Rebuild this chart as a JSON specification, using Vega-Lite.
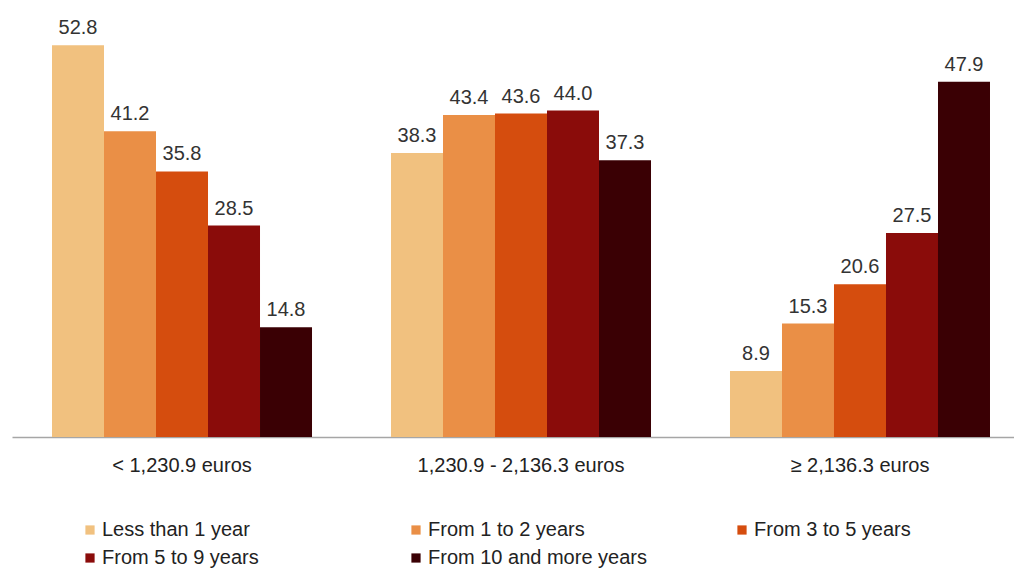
{
  "$schema": "https://vega.github.io/schema/vega-lite/v6.json",
  "width": 1002,
  "height": 408,
  "autosize": {"type": "none"},
  "padding": {"left": 12, "top": 29, "right": 0, "bottom": 132},
  "background": "white",
  "config": {
    "font": "Liberation Sans",
    "view": {"stroke": null}
  },
  "data": {
    "values": [
      {"income": "< 1,230.9 euros", "tenure": "Less than 1 year", "value": 52.8},
      {"income": "< 1,230.9 euros", "tenure": "From 1 to 2 years", "value": 41.2},
      {"income": "< 1,230.9 euros", "tenure": "From 3 to 5 years", "value": 35.8},
      {"income": "< 1,230.9 euros", "tenure": "From 5 to 9 years", "value": 28.5},
      {"income": "< 1,230.9 euros", "tenure": "From 10 and more years", "value": 14.8},
      {"income": "1,230.9 - 2,136.3 euros", "tenure": "Less than 1 year", "value": 38.3},
      {"income": "1,230.9 - 2,136.3 euros", "tenure": "From 1 to 2 years", "value": 43.4},
      {"income": "1,230.9 - 2,136.3 euros", "tenure": "From 3 to 5 years", "value": 43.6},
      {"income": "1,230.9 - 2,136.3 euros", "tenure": "From 5 to 9 years", "value": 44.0},
      {"income": "1,230.9 - 2,136.3 euros", "tenure": "From 10 and more years", "value": 37.3},
      {"income": "≥ 2,136.3 euros", "tenure": "Less than 1 year", "value": 8.9},
      {"income": "≥ 2,136.3 euros", "tenure": "From 1 to 2 years", "value": 15.3},
      {"income": "≥ 2,136.3 euros", "tenure": "From 3 to 5 years", "value": 20.6},
      {"income": "≥ 2,136.3 euros", "tenure": "From 5 to 9 years", "value": 27.5},
      {"income": "≥ 2,136.3 euros", "tenure": "From 10 and more years", "value": 47.9}
    ]
  },
  "encoding": {
    "x": {
      "field": "income",
      "type": "nominal",
      "sort": ["< 1,230.9 euros", "1,230.9 - 2,136.3 euros", "≥ 2,136.3 euros"],
      "scale": {"paddingInner": 0.233, "paddingOuter": 0.0944, "align": 0.625},
      "axis": {
        "title": null,
        "labelAngle": 0,
        "labelFontSize": 20,
        "labelColor": "#222222",
        "labelPadding": 18,
        "labelLimit": 400,
        "ticks": false,
        "domainColor": "#A6A6A6",
        "domainWidth": 1.5
      }
    },
    "xOffset": {
      "field": "tenure",
      "type": "nominal",
      "sort": ["Less than 1 year", "From 1 to 2 years", "From 3 to 5 years", "From 5 to 9 years", "From 10 and more years"],
      "scale": {"paddingInner": 0, "paddingOuter": 0}
    },
    "y": {
      "field": "value",
      "type": "quantitative",
      "scale": {"domain": [0, 55], "nice": false},
      "axis": null
    }
  },
  "layer": [
    {
      "mark": {"type": "bar"},
      "encoding": {
        "color": {
          "field": "tenure",
          "type": "nominal",
          "sort": ["Less than 1 year", "From 1 to 2 years", "From 3 to 5 years", "From 5 to 9 years", "From 10 and more years"],
          "scale": {
            "domain": ["Less than 1 year", "From 1 to 2 years", "From 3 to 5 years", "From 5 to 9 years", "From 10 and more years"],
            "range": ["#F1C17F", "#EA8F46", "#D54D0E", "#8A0C0A", "#3A0004"]
          },
          "legend": {
            "title": null,
            "orient": "none",
            "legendX": 68,
            "legendY": 491,
            "direction": "horizontal",
            "columns": 3,
            "gridAlign": "all",
            "columnPadding": 85,
            "rowPadding": 8,
            "symbolType": "square",
            "symbolSize": 85,
            "symbolStrokeWidth": 0,
            "symbolOffset": 0,
            "labelOffset": 2,
            "labelFontSize": 20,
            "labelColor": "#222222",
            "labelLimit": 400
          }
        }
      }
    },
    {
      "mark": {"type": "text", "baseline": "alphabetic", "dy": -11, "fontSize": 20, "color": "#333333"},
      "encoding": {
        "text": {"field": "value", "type": "quantitative", "format": ".1f"}
      }
    }
  ]
}
